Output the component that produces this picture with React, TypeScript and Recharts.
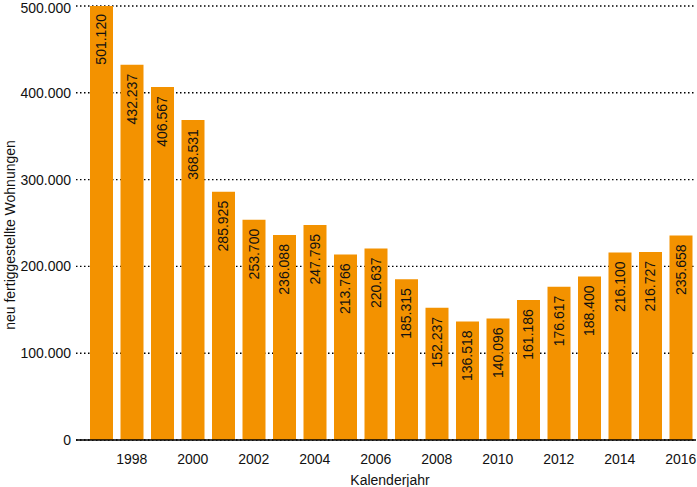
import { BarChart, Bar, XAxis, YAxis, CartesianGrid, LabelList } from 'recharts'

const YEARS = ['1997', '1998', '1999', '2000', '2001', '2002', '2003', '2004', '2005', '2006', '2007', '2008', '2009', '2010', '2011', '2012', '2013', '2014', '2015', '2016']
const COMPLETED = [501120, 432237, 406567, 368531, 285925, 253700, 236088, 247795, 213766, 220637, 185315, 152237, 136518, 140096, 161186, 176617, 188400, 216100, 216727, 235658]
const Y_TICKS = [0, 100000, 200000, 300000, 400000, 500000]

const data = YEARS.map((year, i) => ({ year, value: COMPLETED[i] }))

const FONT = '"Liberation Sans", Arial, sans-serif'

// 1234567 -> "1.234.567"
const fmt = (v: number) => String(v).replace(/\B(?=(\d{3})+(?!\d))/g, '.')

function BarValue(props: any) {
  const { x, y, width, value } = props
  const cx = x + width / 2
  const ty = y + 9
  return (
    <text
      x={cx}
      y={ty}
      transform={`rotate(-90, ${cx}, ${ty})`}
      textAnchor="end"
      dominantBaseline="central"
      fontSize={14}
      fontFamily={FONT}
      fill="#111"
    >
      {fmt(value)}
    </text>
  )
}

export default function App() {
  return (
    <div style={{ position: 'absolute', left: 0, top: 0, background: '#fff' }}>
      <BarChart width={697} height={487} data={data} margin={{ top: 6, right: 1, left: 0, bottom: 0 }}>
        <CartesianGrid vertical={false} stroke="#000" strokeWidth={1.4} strokeDasharray="1.5 2.5" />
        <XAxis
          dataKey="year"
          interval={0}
          height={47}
          padding={{ left: 10, right: 0 }}
          tickLine={false}
          axisLine={{ stroke: '#000', strokeWidth: 1.5 }}
          tickMargin={8}
          tickFormatter={(y: string) => (Number(y) % 2 === 0 ? y : '')}
          tick={{ fontSize: 14, fontFamily: FONT, fill: '#111' }}
          label={{ value: 'Kalenderjahr', position: 'insideBottom', offset: 2, dx: 4, style: { fontSize: 14, fontFamily: FONT, fill: '#111' } }}
        />
        <YAxis
          width={76}
          domain={[0, 500000]}
          allowDataOverflow
          ticks={Y_TICKS}
          axisLine={false}
          tickLine={false}
          tickSize={0}
          tickMargin={5}
          tickFormatter={(v: number) => fmt(v)}
          tick={{ fontSize: 14, fontFamily: FONT, fill: '#111' }}
          label={{ value: 'neu fertiggestellte Wohnungen', angle: -90, position: 'insideLeft', offset: 10, dy: 12, style: { textAnchor: 'middle', fontSize: 14, fontFamily: FONT, fill: '#111' } }}
        />
        <Bar dataKey="value" fill="#f39200" barSize={23} isAnimationActive={false}>
          <LabelList dataKey="value" content={BarValue} />
        </Bar>
      </BarChart>
    </div>
  )
}
